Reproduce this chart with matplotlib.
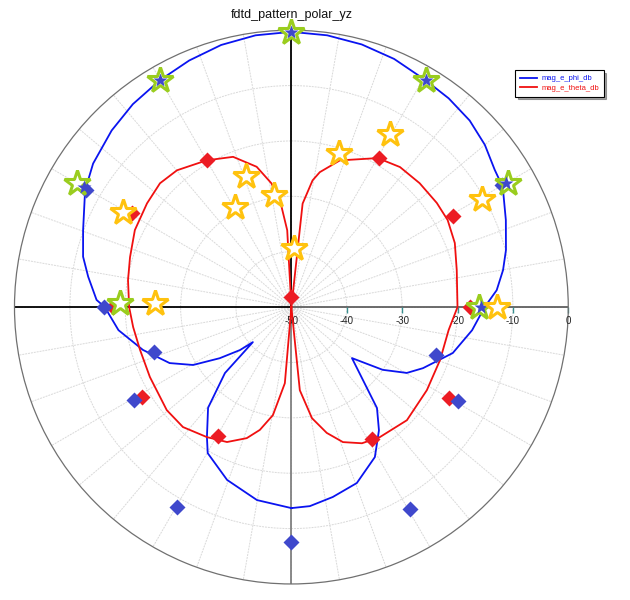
import numpy as np
import matplotlib
matplotlib.use("Agg")
import matplotlib.pyplot as plt
from matplotlib import transforms

plt.rcParams['font.family'] = ['Liberation Sans', 'DejaVu Sans']

# far-field cuts, angle in degrees clockwise from +z (top), magnitude in dB
phi_deg = [-180, -169.9, -159.6, -150.2, -147.0, -140.4, -134.8, -132.3, -129.9,
           -125.5, -120.5, -114.7, -106.1, -97.6, -90, -87.9, -81.5, -76.4, -69.7,
           -60.5, -54.1, -45.5, -38, -30.1, -22.5, -15, -7.5, 0, 7.5, 15, 22.5,
           30.6, 37, 43.7, 50, 56.0, 60.4, 67.9,
           75.1, 80.1, 85.3, 90, 97.3, 105.9, 114.9, 119.7, 124.5, 130.1, 139.7,
           144.6, 150.9, 159.6, 167.7, 174.7, 180]
phi_db = [-13.7, -14.6, -16.7, -19.6, -22.0, -26.4, -33.1, -40.6, -37.9,
          -34.1, -29.4, -25.8, -22.1, -18.5, -16.3, -14.8, -12.9, -11.3, -9.9,
          -7.2, -5.8, -4.5, -3.5, -2.65, -1.8, -1.0, -0.5, -0.3, -0.5, -0.9, -1.5,
          -2.4, -2.8, -3.4, -4.4, -5.7, -6.1, -8.2,
          -9.9, -11.2, -12.8, -15.1, -17.1, -19.7, -23.8, -26.0, -30.0, -35.7, -26.1,
          -22.7, -19.0, -16.1, -14.9, -13.9, -13.7]

theta_deg = [-180, -175.1, -170.3, -165.6, -161.2, -154.5, -147.0, -137.9, -129.6,
             -116.3, -105.8, -97.2, -90, -80.6, -72.8, -63.8, -54.3, -46.7, -39.9,
             -30.0, -21.2, -13.9, -9.1, -5.6, -3.1, 0, 6.2, 9.5, 11.9, 18.3, 30.1,
             37.8, 46.0, 54.4, 60.9, 68.6, 77.4, 90, 98.3, 109.6, 121.5, 134.4,
             145.8, 152.6, 159.1, 164.3, 169.5, 174.2, 180]
theta_db = [-50, -36.2, -30.2, -27.1, -25.0, -23.0, -22.0, -20.8, -20.8,
            -21.5, -21.6, -21.2, -20.7, -20.1, -19.5, -18.5, -17.9, -17.4, -17.8,
            -19.4, -20.9, -23.9, -27.4, -31.8, -36.1, -50, -31.2, -26.8, -25.1, -22.1, -18.9,
            -18.0, -17.8, -17.7, -17.7, -18.3, -19.4, -20.0, -21.3, -21.5, -21.3, -20.8,
            -21.6, -22.3, -23.9, -26.4, -29.6, -34.9, -50]

# measured points
phi_meas_deg = [-60.3, 59.9, -90, -108.1, -120.4, -150.2, 180, 149.6, 119.3, 108.3]
phi_meas_db = [-7.3, -6.1, -16.2, -23.9, -17.0, -8.3, -7.6, -7.7, -15.5, -22.4]

theta_meas_deg = [0, -30.0, 30.4, -59.5, 60.6, -90, 90, -121.1, 119.9, -150.2, 148.7]
theta_meas_db = [-48.2, -19.4, -18.8, -16.6, -16.5, -17.8, -17.8, -18.6, -17.1, -23.2, -22.1]

ref_deg = [0, -30.1, 30.6, -60.0, 60.3, -88.8, 90]
ref_db = [-0.4, -2.65, -2.4, -5.2, -4.95, -19.0, -16.1]

phi_ref_deg = [0, -30.1, 30.6, -60.0, 59.9, 90]
phi_ref_db = [-0.4, -2.65, -2.4, -6.7, -5.25, -15.8]

alt_deg = [2.7, -19.1, -29.4, -8.9, 17.1, 29.6, 60.5, -60.5, -88.2, 90]
alt_db = [-39.4, -25.0, -29.2, -29.5, -20.9, -14.0, -10.5, -15.1, -25.3, -12.8]

r_ticks = [-50, -40, -30, -20, -10, 0]

fig = plt.figure(figsize=(6.3, 6.0), dpi=100)
ax = fig.add_axes([0.023, 0.0267, 0.879, 0.923], projection='polar')
ax.set_theta_zero_location('N')
ax.set_theta_direction(-1)
ax.set_ylim(-50, 0)
ax.set_thetagrids(np.arange(0, 360, 10), labels=[])
ax.set_rgrids([-40, -30, -20, -10], labels=[])
ax.grid(color='#d9d9d9', lw=0.7, ls=(0, (2, 1)))
ax.spines['polar'].set_color('#707070')
ax.spines['polar'].set_linewidth(0.9)
ax.tick_params(length=0)

# axis cross through the centre
for ang, col in [(0, 'black'), (90, '#606060'), (180, '#808080'), (270, 'black')]:
    ax.plot([np.radians(ang)] * 2, [-50, 0], color=col, lw=1.3, zorder=2)

# radial scale along the right-hand axis
off = transforms.offset_copy(ax.transData, fig=fig, x=0, y=-14, units='dots')
for v in r_ticks:
    ax.plot([np.pi / 2], [v], marker=3, ms=4, color='#3a8f8f', mew=1, zorder=2, clip_on=False)
    ax.text(np.pi / 2, v, str(v), transform=off, ha='center', va='center',
            fontsize=7, color='#222222')

ax.plot(np.radians(phi_deg), phi_db, color='#0a14f0', lw=1.3, zorder=3, label='mag_e_phi_db')
ax.plot(np.radians(theta_deg), theta_db, color='#f01010', lw=1.3, zorder=3, label='mag_e_theta_db')

ax.plot(np.radians(theta_meas_deg), theta_meas_db, 'D', ms=8, color='#ec1c24',
        mec='none', zorder=4, clip_on=False)
ax.plot(np.radians(phi_meas_deg), phi_meas_db, 'D', ms=8, color='#3f48cc',
        mec='none', zorder=4, clip_on=False)
ax.plot(np.radians(ref_deg), ref_db, '*', ms=19, mfc='white', mec='#9acd1e',
        mew=2.2, zorder=5, clip_on=False)
ax.plot(np.radians(phi_ref_deg), phi_ref_db, '*', ms=10, color='#3f48cc',
        mec='none', zorder=6, clip_on=False)
ax.plot(np.radians(alt_deg), alt_db, '*', ms=19, mfc='white', mec='#ffc20e',
        mew=2.2, zorder=6, clip_on=False)

fig.text(292 / 630, 0.975, 'fdtd_pattern_polar_yz', ha='center', va='center',
         fontsize=9, color='#111111')

leg = fig.legend(loc='upper left', bbox_to_anchor=(0.812, 0.889), fontsize=5.5,
                 handlelength=2.2, handletextpad=0.6, frameon=True, fancybox=False,
                 shadow=True, labelcolor='linecolor', borderpad=0.6, labelspacing=0.3)
leg.get_frame().set_edgecolor('black')
leg.get_frame().set_linewidth(0.8)

fig.savefig('out.png', dpi=100)
